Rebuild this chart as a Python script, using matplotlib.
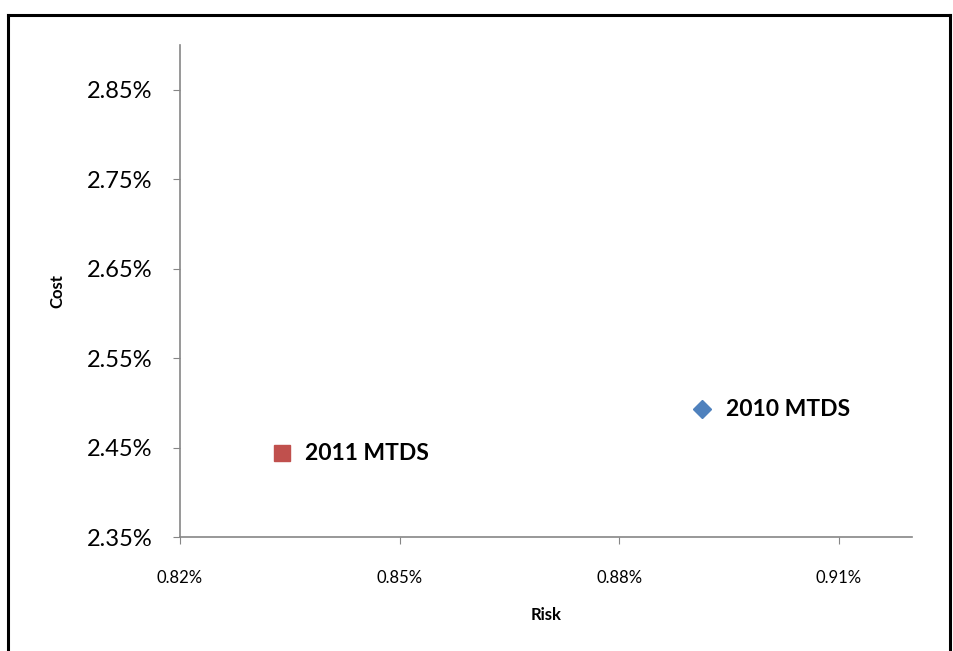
import matplotlib.pyplot as plt
from matplotlib.lines import Line2D
from matplotlib.ticker import FuncFormatter

# data (values in %)
labels = ["2010 MTDS", "2011 MTDS"]
risk = [0.8913, 0.8339]
cost = [2.4929, 2.4437]
markers = ["D", "s"]
colors = ["#4F81BD", "#C0504D"]

x_ticks = [0.82, 0.85, 0.88, 0.91]
y_ticks = [2.35, 2.45, 2.55, 2.65, 2.75, 2.85]

plt.rcParams["font.family"] = ["Lato", "DejaVu Sans"]

fig = plt.figure(figsize=(9.54, 6.51), dpi=100)
ax = fig.add_axes([0.1887, 0.1751, 0.956 - 0.1887, 0.9309 - 0.1751])

for x, y, m, c, lab in zip(risk, cost, markers, colors, labels):
    ax.plot(x, y, marker=m, color=c, markersize=11 if m == "s" else 9, linestyle="none")
    ax.annotate(lab, (x, y), xytext=(17, 0), textcoords="offset points",
                va="center", ha="left", fontsize=16.5, fontweight="bold")

ax.set_xlim(0.82, 0.92)
ax.set_ylim(2.35, 2.90)
ax.set_xticks(x_ticks)
ax.set_yticks(y_ticks)
ax.xaxis.set_major_formatter(FuncFormatter(lambda v, _: f"{v:.2f}%"))
ax.yaxis.set_major_formatter(FuncFormatter(lambda v, _: f"{v:.2f}%"))

ax.tick_params(axis="x", labelsize=12, length=5, color="#868686", pad=19)
ax.tick_params(axis="y", labelsize=17, length=5, color="#868686", pad=15)
for s in ["top", "right"]:
    ax.spines[s].set_visible(False)
for s in ["left", "bottom"]:
    ax.spines[s].set_color("#868686")
    ax.spines[s].set_linewidth(1.2)

ax.set_xlabel("Risk", fontsize=12, fontweight="bold", labelpad=15)
ax.set_ylabel("Cost", fontsize=12, fontweight="bold", labelpad=15)

# outer frame
for xs, ys in [([8 / 954, 8 / 954], [0, 1 - 15 / 651]),
               ([8 / 954, 950 / 954], [1 - 15 / 651, 1 - 15 / 651]),
               ([950 / 954, 950 / 954], [0, 1 - 15 / 651])]:
    fig.add_artist(Line2D(xs, ys, transform=fig.transFigure, color="black", linewidth=2.2))

fig.savefig("out.png", dpi=100)
